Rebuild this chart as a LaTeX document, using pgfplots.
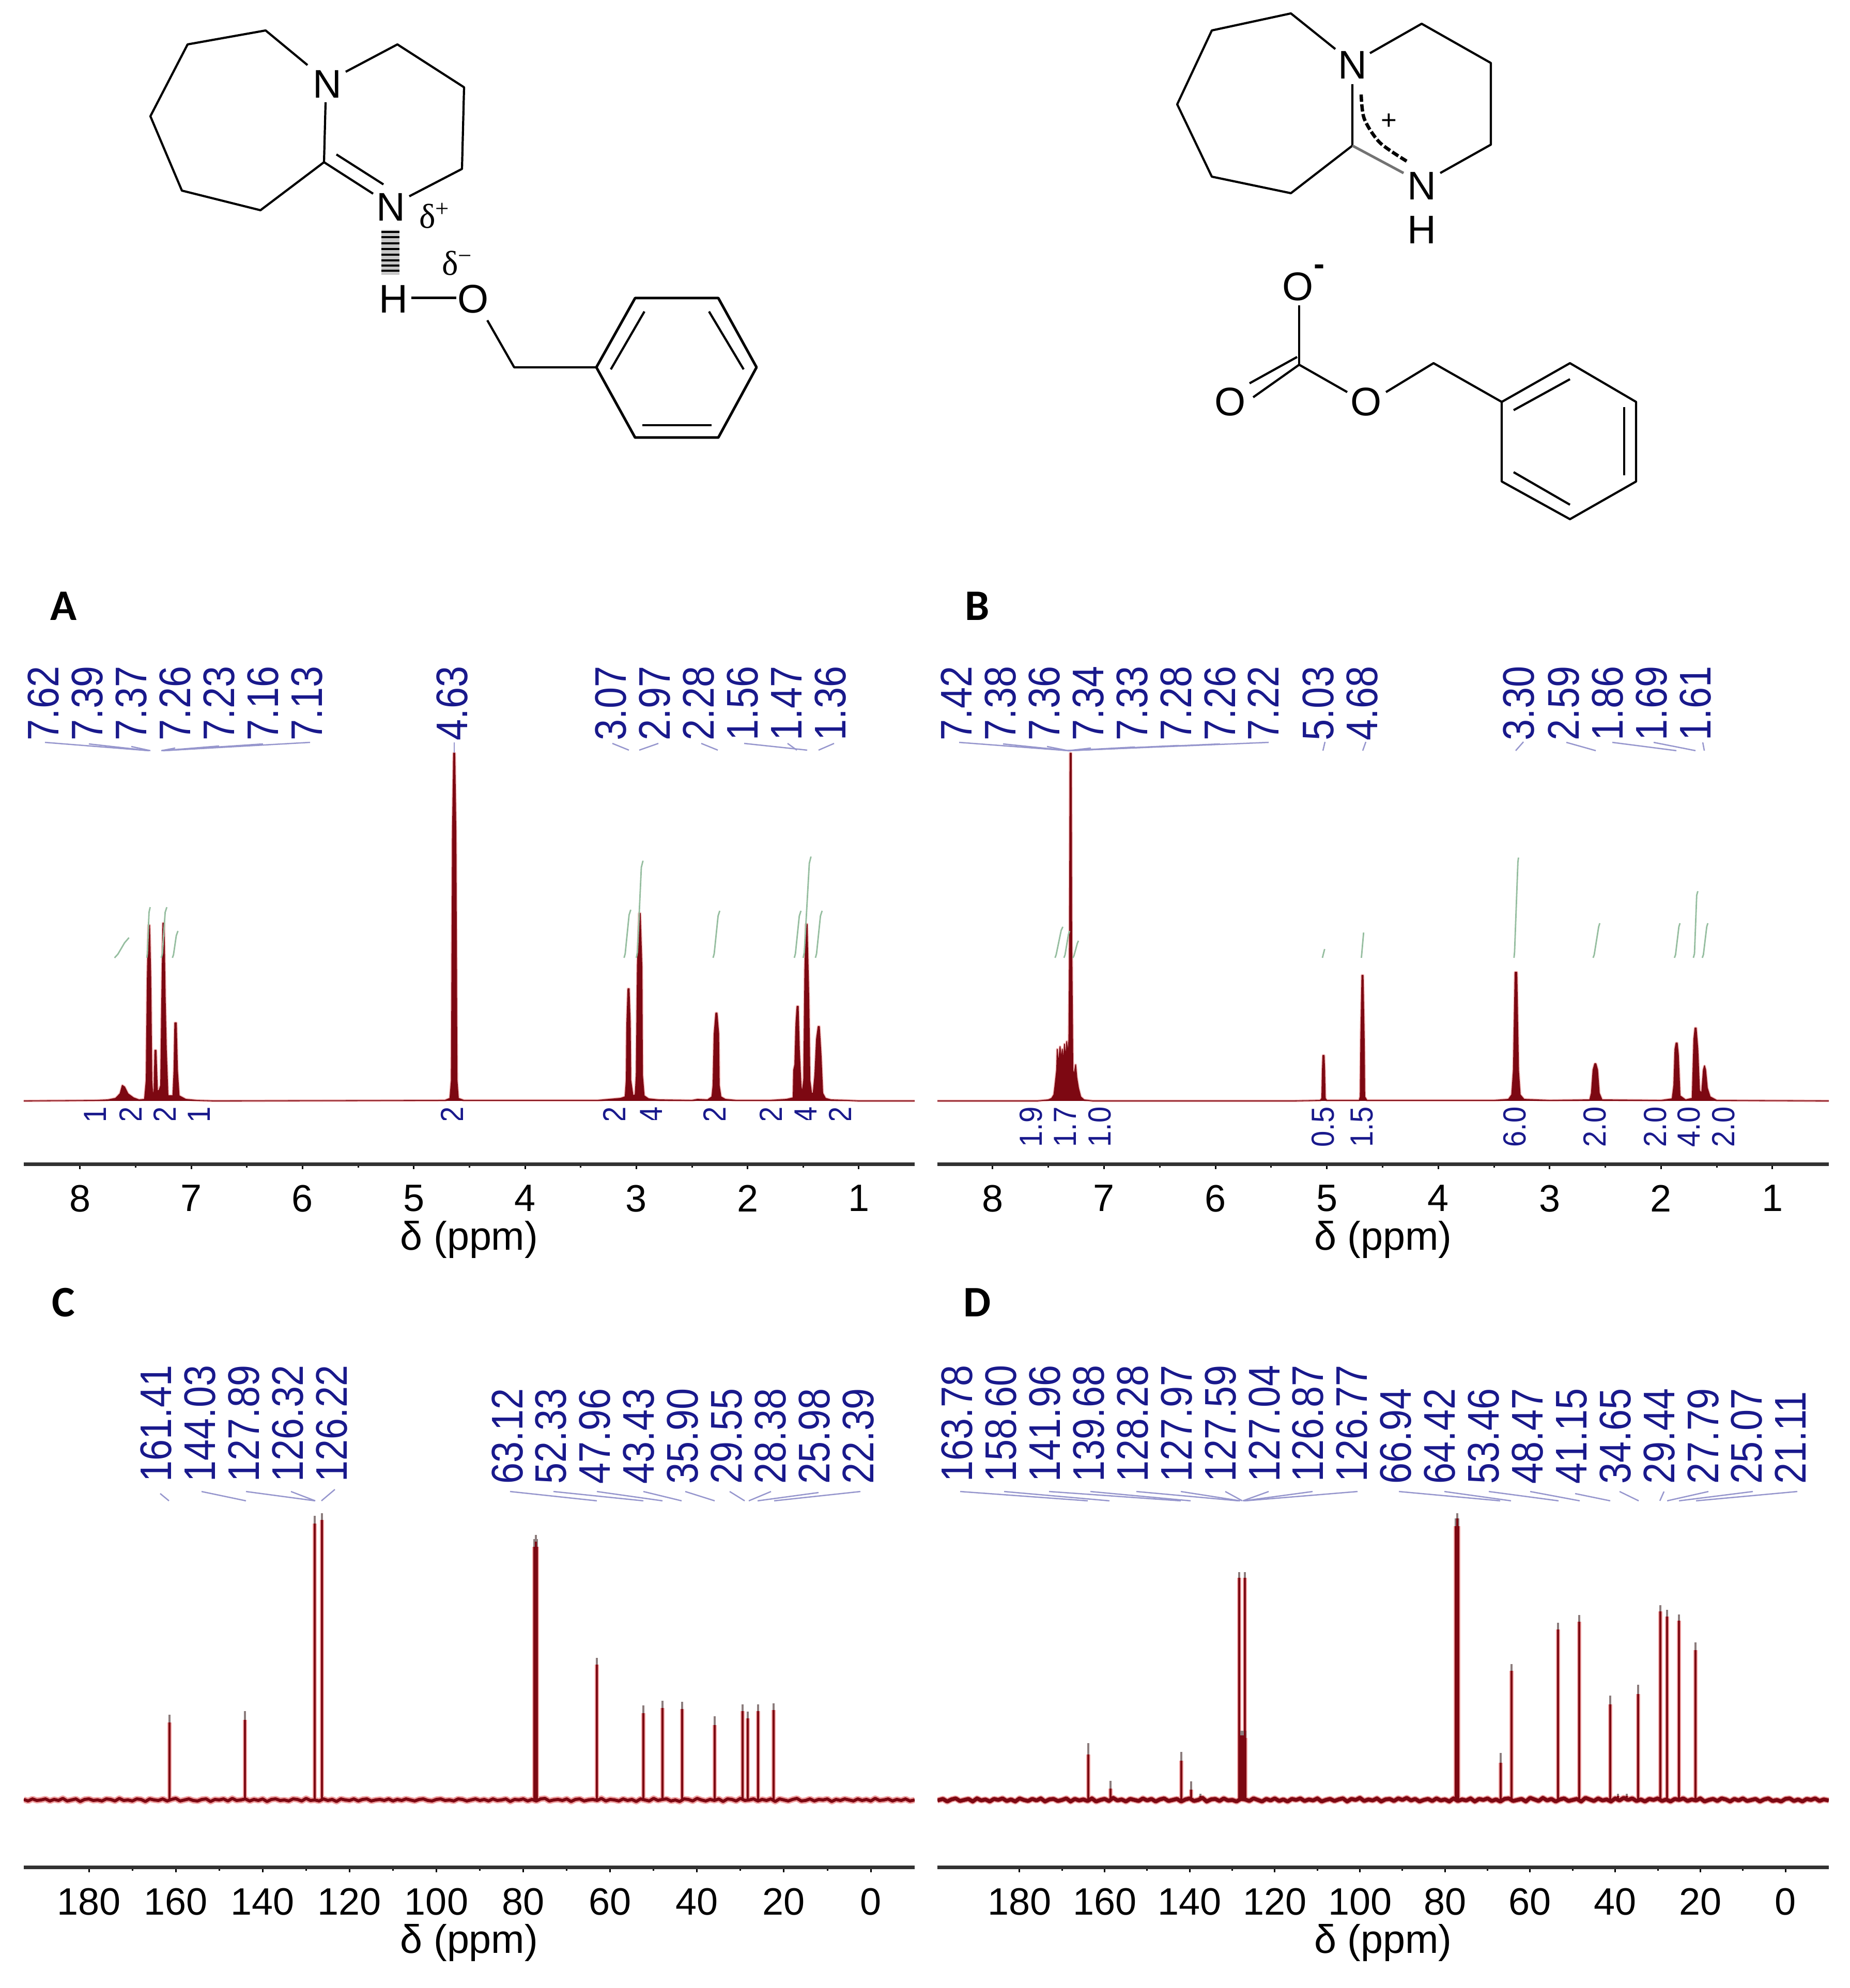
\documentclass[border=0pt]{standalone}
\usepackage{fontspec}
\usepackage{graphicx}
\usepackage{pgfplots}
\usepackage{pgfplotstable}
\pgfplotsset{compat=1.18}
\setmainfont{Liberation Sans}
\newfontfamily\serfont{Liberation Serif}
\newfontfamily\panelfont{Carlito}

\definecolor{spec}{RGB}{125,8,18}
\definecolor{halo}{RGB}{240,160,160}
\definecolor{tip}{RGB}{140,125,125}
\definecolor{integ}{RGB}{150,190,160}
\definecolor{peaklab}{RGB}{25,25,140}
\definecolor{leader}{RGB}{150,150,205}
\definecolor{axisgray}{RGB}{50,50,50}

% 1H spectra: ppm, height above baseline
\pgfplotstableread[row sep=\\]{
x y\\
8.51 0\\ 7.85 1\\ 7.75 2\\ 7.68 5\\ 7.64 14\\ 7.62 30\\ 7.60 27\\ 7.57 14\\ 7.52 6\\ 7.47 2\\ 7.42 3\\
7.405 40\\ 7.395 240\\ 7.385 340\\ 7.375 340\\ 7.365 240\\ 7.355 40\\ 7.345 8\\ 7.335 20\\ 7.327 98\\ 7.317 98\\ 7.305 20\\ 7.29 20\\
7.275 30\\ 7.265 200\\ 7.255 344\\ 7.245 344\\ 7.235 200\\ 7.225 100\\ 7.21 10\\ 7.165 10\\ 7.155 60\\ 7.148 151\\ 7.135 151\\ 7.125 60\\ 7.11 10\\ 7.05 3\\ 6.95 1\\ 6.8 0\\
4.72 1\\ 4.675 5\\ 4.662 40\\ 4.652 520\\ 4.642 673\\ 4.632 673\\ 4.622 520\\ 4.612 40\\ 4.60 5\\ 4.55 1\\
3.35 1\\ 3.14 5\\ 3.10 8\\ 3.09 40\\ 3.085 150\\ 3.075 217\\ 3.065 217\\ 3.055 150\\ 3.05 40\\ 3.03 10\\
3.01 12\\ 3.0 50\\ 2.99 260\\ 2.975 363\\ 2.965 363\\ 2.95 260\\ 2.945 50\\ 2.93 10\\ 2.89 4\\ 2.8 2\\ 2.5 1\\ 2.45 3\\ 2.36 2\\
2.32 8\\ 2.31 30\\ 2.30 130\\ 2.285 170\\ 2.275 170\\ 2.26 130\\ 2.255 30\\ 2.24 8\\ 2.2 3\\ 2.1 1\\ 1.8 1\\ 1.65 3\\
1.59 6\\ 1.585 60\\ 1.575 70\\ 1.565 150\\ 1.555 183\\ 1.545 183\\ 1.535 100\\ 1.52 30\\ 1.51 15\\ 1.495 40\\ 1.485 250\\ 1.475 342\\ 1.465 342\\ 1.45 200\\ 1.44 40\\ 1.425 15\\ 1.41 15\\ 1.395 50\\ 1.38 120\\ 1.365 144\\ 1.355 144\\ 1.34 90\\ 1.325 15\\ 1.30 5\\ 1.25 2\\ 1.1 1\\ 1.0 0\\ 0.49 0\\
}\specA
\pgfplotstableread[row sep=\\]{
x y\\
8.5 0\\ 7.6 0\\ 7.5 2\\ 7.47 5\\ 7.45 12\\ 7.44 30\\ 7.425 60\\ 7.42 100\\ 7.41 70\\ 7.395 105\\ 7.385 80\\ 7.375 100\\ 7.365 75\\ 7.355 110\\ 7.345 80\\ 7.335 115\\ 7.325 90\\ 7.315 120\\ 7.31 300\\ 7.305 673\\ 7.295 673\\ 7.29 300\\ 7.28 60\\ 7.27 50\\ 7.255 70\\ 7.245 45\\ 7.23 25\\ 7.21 8\\ 7.18 2\\ 7.1 0\\
5.3 0\\ 5.06 1\\ 5.045 5\\ 5.04 60\\ 5.035 88\\ 5.025 88\\ 5.02 60\\ 5.015 5\\ 5.0 1\\ 4.71 1\\ 4.7 8\\ 4.695 120\\ 4.685 243\\ 4.675 243\\ 4.665 120\\ 4.66 8\\ 4.64 1\\
3.5 1\\ 3.37 3\\ 3.34 12\\ 3.325 60\\ 3.31 249\\ 3.295 249\\ 3.28 60\\ 3.265 12\\ 3.23 3\\ 3.0 1\\ 2.64 2\\ 2.625 15\\ 2.61 60\\ 2.595 72\\ 2.585 72\\ 2.57 60\\ 2.555 15\\ 2.53 2\\ 2.0 1\\
1.90 4\\ 1.885 30\\ 1.875 100\\ 1.865 112\\ 1.855 112\\ 1.845 90\\ 1.83 10\\ 1.78 2\\ 1.72 5\\ 1.705 120\\ 1.695 141\\ 1.685 141\\ 1.67 100\\ 1.655 20\\ 1.635 15\\ 1.62 60\\ 1.61 68\\ 1.60 60\\ 1.585 25\\ 1.56 8\\ 1.50 1\\ 0.49 0\\
}\specB

% integral traces
\pgfplotstableread[row sep=\\]{
x y\\
7.69 277\\ 7.66 284\\ 7.60 306\\ 7.56 316\\ nan nan\\ 7.40 277\\ 7.395 285\\ 7.38 365\\ 7.37 375\\ nan nan\\ 7.27 277\\ 7.26 285\\ 7.235 365\\ 7.22 375\\ nan nan\\ 7.17 277\\ 7.16 283\\ 7.135 320\\ 7.12 329\\ nan nan\\
3.11 277\\ 3.10 285\\ 3.065 360\\ 3.05 370\\ nan nan\\ 3.00 277\\ 2.99 288\\ 2.955 452\\ 2.94 465\\ nan nan\\ 2.31 277\\ 2.30 285\\ 2.265 358\\ 2.25 368\\ nan nan\\ 1.58 277\\ 1.57 285\\ 1.535 358\\ 1.52 368\\ nan nan\\ 1.50 277\\ 1.49 288\\ 1.445 460\\ 1.43 473\\ nan nan\\ 1.39 277\\ 1.38 285\\ 1.345 358\\ 1.33 368\\
}\intA
\pgfplotstableread[row sep=\\]{
x y\\
7.44 277\\ 7.43 283\\ 7.385 330\\ 7.37 337\\ nan nan\\ 7.36 277\\ 7.35 283\\ 7.32 322\\ 7.31 329\\ nan nan\\ 7.28 277\\ 7.27 281\\ 7.24 305\\ 7.23 310\\ nan nan\\ 5.04 277\\ 5.02 294\\ nan nan\\ 4.69 277\\ 4.67 326\\ nan nan\\
3.32 277\\ 3.315 288\\ 3.285 462\\ 3.28 471\\ nan nan\\ 2.61 277\\ 2.60 283\\ 2.56 337\\ 2.55 344\\ nan nan\\ 1.88 277\\ 1.87 283\\ 1.84 337\\ 1.83 344\\ nan nan\\ 1.71 277\\ 1.70 285\\ 1.68 398\\ 1.67 406\\ nan nan\\ 1.63 277\\ 1.62 283\\ 1.59 337\\ 1.58 344\\
}\intB

% 13C baselines
\pgfplotstableread[row sep=\\]{
x y\\
195 1\\ 194 -2\\ 193 2\\ 192 -1\\ 191 0\\ 190 2\\ 189 -2\\ 188 1\\ 187 -1\\ 186 3\\ 185 -2\\ 184 0\\ 183 2\\ 182 -3\\ 181 1\\ 180 2\\ 179 -1\\ 178 0\\ 177 -2\\ 176 2\\ 175 1\\ 174 -2\\ 173 3\\ 172 -1\\ 171 0\\ 170 -2\\ 169 2\\ 168 1\\ 167 -3\\ 166 2\\ 165 0\\ 164 -1\\ 163 2\\ 162 -2\\ 161 1\\ 160 3\\ 159 -2\\ 158 0\\ 157 2\\ 156 -1\\ 155 -2\\ 154 1\\ 153 2\\ 152 -3\\ 151 1\\ 150 0\\ 149 2\\ 148 -2\\ 147 3\\ 146 -1\\ 145 0\\ 144 2\\ 143 -2\\ 142 1\\ 141 -1\\ 140 2\\ 139 -3\\ 138 1\\ 137 2\\ 136 -1\\ 135 0\\ 134 -2\\ 133 2\\ 132 1\\ 131 -2\\ 130 3\\ 129 -1\\ 128 0\\ 127 -2\\ 126 2\\ 125 -1\\ 124 1\\ 123 -3\\ 122 2\\ 121 0\\ 120 -1\\ 119 2\\ 118 -2\\ 117 1\\ 116 2\\ 115 -2\\ 114 0\\ 113 1\\ 112 -1\\ 111 2\\ 110 -2\\ 109 1\\ 108 -1\\ 107 2\\ 106 0\\ 105 -2\\ 104 1\\ 103 2\\ 102 -1\\ 101 -2\\ 100 1\\ 99 2\\ 98 -1\\ 97 0\\ 96 -2\\ 95 2\\ 94 1\\ 93 -2\\ 92 0\\ 91 2\\ 90 -1\\ 89 1\\ 88 -2\\ 87 2\\ 86 -1\\ 85 0\\ 84 2\\ 83 -3\\ 82 1\\ 81 0\\ 80 2\\ 79 -2\\ 78 1\\ 77 -2\\ 76 2\\ 75 3\\ 74 -2\\ 73 0\\ 72 1\\ 71 -1\\ 70 2\\ 69 -3\\ 68 1\\ 67 2\\ 66 -2\\ 65 0\\ 64 1\\ 63 -1\\ 62 3\\ 61 -2\\ 60 1\\ 59 0\\ 58 -2\\ 57 2\\ 56 -1\\ 55 1\\ 54 -3\\ 53 2\\ 52 0\\ 51 -2\\ 50 3\\ 49 -1\\ 48 1\\ 47 2\\ 46 -2\\ 45 0\\ 44 -3\\ 43 2\\ 42 1\\ 41 -2\\ 40 3\\ 39 0\\ 38 -2\\ 37 1\\ 36 -1\\ 35 2\\ 34 -3\\ 33 2\\ 32 1\\ 31 -2\\ 30 3\\ 29 -1\\ 28 0\\ 27 2\\ 26 -2\\ 25 1\\ 24 -1\\ 23 2\\ 22 -3\\ 21 2\\ 20 0\\ 19 -2\\ 18 1\\ 17 3\\ 16 -2\\ 15 -1\\ 14 2\\ 13 -2\\ 12 1\\ 11 0\\ 10 2\\ 9 -3\\ 8 1\\ 7 -1\\ 6 2\\ 5 0\\ 4 -2\\ 3 2\\ 2 -1\\ 1 1\\ 0 -2\\ -1 3\\ -2 -1\\ -3 0\\ -4 2\\ -5 -2\\ -6 1\\ -7 -1\\ -8 2\\ -9 -2\\ -10.1 0\\
}\baseC
\pgfplotstableread[row sep=\\]{
x y\\
199.3 -1\\ 198 2\\ 197 -3\\ 196 1\\ 195 3\\ 194 -2\\ 193 0\\ 192 2\\ 191 -3\\ 190 3\\ 189 -1\\ 188 1\\ 187 -3\\ 186 2\\ 185 0\\ 184 3\\ 183 -2\\ 182 1\\ 181 -3\\ 180 3\\ 179 0\\ 178 -2\\ 177 2\\ 176 -1\\ 175 3\\ 174 -3\\ 173 1\\ 172 2\\ 171 -2\\ 170 0\\ 169 3\\ 168 -3\\ 167 2\\ 166 -1\\ 165 1\\ 164 -2\\ 163 3\\ 162 -3\\ 161 0\\ 160 2\\ 159 -2\\ 158 4\\ 157 -1\\ 156 1\\ 155 -3\\ 154 2\\ 153 0\\ 152 -2\\ 151 3\\ 150 -1\\ 149 2\\ 148 -3\\ 147 1\\ 146 3\\ 145 -2\\ 144 0\\ 143 2\\ 142 -3\\ 141 1\\ 140 3\\ 139 -2\\ 138 0\\ 137 4\\ 136 -3\\ 135 1\\ 134 2\\ 133 -2\\ 132 3\\ 131 -1\\ 130 0\\ 129 -3\\ 128 2\\ 127 1\\ 126 -2\\ 125 3\\ 124 0\\ 123 -3\\ 122 2\\ 121 -1\\ 120 3\\ 119 -2\\ 118 1\\ 117 -3\\ 116 2\\ 115 0\\ 114 3\\ 113 -2\\ 112 1\\ 111 -1\\ 110 3\\ 109 -3\\ 108 0\\ 107 2\\ 106 -2\\ 105 1\\ 104 3\\ 103 -3\\ 102 2\\ 101 0\\ 100 4\\ 99 -2\\ 98 1\\ 97 -1\\ 96 3\\ 95 -3\\ 94 1\\ 93 2\\ 92 -2\\ 91 3\\ 90 0\\ 89 4\\ 88 -1\\ 87 2\\ 86 -3\\ 85 0\\ 84 2\\ 83 -2\\ 82 3\\ 81 -1\\ 80 1\\ 79 -3\\ 78 3\\ 77 -2\\ 76 1\\ 75 -1\\ 74 3\\ 73 -3\\ 72 2\\ 71 0\\ 70 3\\ 69 -2\\ 68 1\\ 67 -3\\ 66 2\\ 65 3\\ 64 -2\\ 63 0\\ 62 2\\ 61 -3\\ 60 4\\ 59 1\\ 58 -2\\ 57 4\\ 56 -1\\ 55 2\\ 54 -3\\ 53 1\\ 52 3\\ 51 -2\\ 50 0\\ 49 2\\ 48 -3\\ 47 4\\ 46 1\\ 45 -2\\ 44 3\\ 43 -1\\ 42 1\\ 41 -3\\ 40 3\\ 39 -1\\ 38 4\\ 37 0\\ 36 3\\ 35 -2\\ 34 1\\ 33 -3\\ 32 2\\ 31 0\\ 30 3\\ 29 -2\\ 28 1\\ 27 -3\\ 26 2\\ 25 0\\ 24 3\\ 23 -2\\ 22 1\\ 21 -1\\ 20 3\\ 19 -3\\ 18 0\\ 17 2\\ 16 -2\\ 15 3\\ 14 1\\ 13 -3\\ 12 2\\ 11 -1\\ 10 3\\ 9 -2\\ 8 0\\ 7 2\\ 6 -3\\ 5 1\\ 4 3\\ 3 -2\\ 2 0\\ 1 -3\\ 0 2\\ -1 3\\ -2 -2\\ -3 1\\ -4 -3\\ -5 2\\ -6 0\\ -7 3\\ -8 -2\\ -9 1\\ -10.2 -1\\
}\baseD

% 13C peaks: ppm, top of the grey tip, top of the red stem
\pgfplotstableread[row sep=\\]{
x top red\\
161.41 165 150\\ 144.03 172 155\\ 128.0 550 535\\ 126.3 555 542\\ 77.5 505 490\\ 77.16 513 500\\ 76.84 505 490\\ 63.12 275 262\\ 52.33 183 168\\ 47.96 192 178\\ 43.43 190 176\\ 35.90 162 145\\ 29.55 185 172\\ 28.38 171 158\\ 25.98 185 172\\ 22.39 187 174\\
}\peaksC
\pgfplotstableread[row sep=\\]{
x top red\\
163.78 110 88\\ 158.60 37 22\\ 141.96 93 76\\ 139.68 36 20\\ 137.5 12 8\\ 128.4 441 430\\ 128.2 134 120\\ 128.0 134 125\\ 127.6 134 125\\ 127.3 134 125\\ 127.05 441 430\\ 126.9 134 120\\ 77.5 545 530\\ 77.16 555 545\\ 76.84 545 530\\ 66.94 91 72\\ 64.42 263 250\\ 53.46 343 330\\ 48.47 358 345\\ 41.15 202 185\\ 39.3 12 8\\ 37.3 12 8\\ 34.65 223 205\\ 29.44 377 365\\ 27.79 368 355\\ 25.07 359 347\\ 21.11 305 290\\
}\peaksD

\pgfplotsset{
  nmr/.style={
    scale only axis, x dir=reverse,
    axis x line*=bottom, axis y line=none,
    x axis line style={line width=0.07cm, color=axisgray},
    tick align=outside,
    major tick length=0.09cm, minor tick length=0.06cm,
    xtick style={line width=0.03cm, color=black},
    minor tick style={line width=0.03cm, color=black},
    /pgf/number format/assume math mode=true,
    xticklabel style={font=\fontsize{21}{24}\selectfont, inner sep=0pt, yshift=-0.3cm},
    xlabel={δ (ppm)},
    xlabel style={font=\fontsize{22}{26}\selectfont, inner sep=0pt, yshift=-0.17cm},
  },
  specline/.style={color=spec, fill=spec, line width=0.018cm, line join=round},
  specbase/.style={color=spec, line width=0.06cm, line join=round},
  halobase/.style={color=halo, line width=0.115cm, line join=round},
  halo1h/.style={color=halo, fill=halo, line width=0.05cm, opacity=0.7, line join=round},
  intline/.style={color=integ, line width=0.028cm, unbounded coords=jump, line join=round},
}

\newcommand\peaklabfont{\fontsize{21}{24}\selectfont}
\newcommand\smalllabfont{\fontsize{16}{19}\selectfont}
% top and bottom rotated labels, in picture pixels
\newcommand\tl[3]{\node[anchor=south, inner sep=0pt, color=peaklab, font=\peaklabfont] at (axis cs:#1,#2) {\rotatebox{90}{\scalebox{1}[1.16]{#3}}};}
\newcommand\bl[3]{\node[anchor=north, inner sep=0pt, color=peaklab, font=\smalllabfont] at (axis cs:#1,#2) {\rotatebox{90}{\scalebox{1}[1.1]{#3}}};}
\newcommand\ld[4]{\addplot[color=leader, line width=0.025cm] coordinates {(#1,#2)(#3,#4)};}
\newcommand\atom[3]{\node[inner sep=0pt, font=\fontsize{22}{26}\selectfont] at (axis cs:#1,#2) {#3};}
\newcommand\bondline[1]{\addplot[black, line width=0.042cm, line join=round] coordinates {#1};}
\newcommand\panel[3]{\node[inner sep=0pt, font=\panelfont\bfseries\fontsize{24}{28}\selectfont] at (axis cs:#1,#2) {#3};}

\begin{document}
\begin{tikzpicture}
\path[use as bounding box] (0,0) rectangle (35.79cm,38.48cm);

% A
\begin{axis}[nmr, at={(0.46cm,15.94cm)}, width=17.24cm, height=10.54cm,
  xmin=0.498, xmax=8.506, ymin=-123, ymax=931,
  xtick={1,2,3,4,5,6,7,8}, minor x tick num=1]
  \addplot[halo1h] table[x=x,y=y] {\specA};
  \addplot[specline] table[x=x,y=y] {\specA};
  \addplot[intline] table[x=x,y=y] {\intA};
\end{axis}

% B
\begin{axis}[nmr, at={(18.14cm,15.94cm)}, width=17.25cm, height=10.54cm,
  xmin=0.494, xmax=8.496, ymin=-123, ymax=931,
  xtick={1,2,3,4,5,6,7,8}, minor x tick num=1]
  \addplot[halo1h] table[x=x,y=y] {\specB};
  \addplot[specline] table[x=x,y=y] {\specB};
  \addplot[intline] table[x=x,y=y] {\intB};
\end{axis}

% C
\begin{axis}[nmr, at={(0.46cm,2.33cm)}, width=17.24cm, height=8.65cm,
  xmin=-10.1, xmax=195, ymin=-131, ymax=734,
  xtick={0,20,...,180}, minor x tick num=1]
  \addplot[halobase] table[x=x,y=y] {\baseC};
  \addplot[ycomb, color=halo, line width=0.08cm] table[x=x,y=red] {\peaksC};
  \addplot[ycomb, color=tip, line width=0.04cm] table[x=x,y=top] {\peaksC};
  \addplot[ycomb, color=spec, line width=0.04cm] table[x=x,y=red] {\peaksC};
  \addplot[specbase] table[x=x,y=y] {\baseC};
\end{axis}

% D
\begin{axis}[nmr, at={(18.14cm,2.33cm)}, width=17.25cm, height=8.65cm,
  xmin=-10.2, xmax=199.3, ymin=-131, ymax=734,
  xtick={0,20,...,180}, minor x tick num=1]
  \addplot[halobase] table[x=x,y=y] {\baseD};
  \addplot[ycomb, color=halo, line width=0.08cm] table[x=x,y=red] {\peaksD};
  \addplot[ycomb, color=tip, line width=0.04cm] table[x=x,y=top] {\peaksD};
  \addplot[ycomb, color=spec, line width=0.04cm] table[x=x,y=red] {\peaksD};
  \addplot[specbase, line width=0.075cm] table[x=x,y=y] {\baseD};
\end{axis}

% everything else, in picture pixels
\begin{axis}[at={(0cm,0cm)}, scale only axis, width=35.79cm, height=38.48cm,
  xmin=0, xmax=3579, ymin=0, ymax=3848, y dir=reverse, hide axis, clip=false]

  \panel{123}{1173}{A}
  \panel{1891}{1173}{B}
  \panel{123}{2521}{C}
  \panel{1891}{2521}{D}

  % A labels
  \tl{84}{1434}{7.62}\tl{169}{1434}{7.39}\tl{254}{1434}{7.37}\tl{339}{1434}{7.26}\tl{424}{1434}{7.23}\tl{509}{1434}{7.16}\tl{594}{1434}{7.13}
  \tl{875}{1434}{4.63}
  \tl{1182}{1434}{3.07}\tl{1267}{1434}{2.97}\tl{1352}{1434}{2.28}\tl{1437}{1434}{1.56}\tl{1522}{1434}{1.47}\tl{1607}{1434}{1.36}
  \ld{87}{1437}{288}{1453}\ld{172}{1440}{288}{1453}\ld{254}{1445}{291}{1453}
  \ld{339}{1448}{312}{1453}\ld{424}{1444}{314}{1453}\ld{509}{1440}{316}{1453}\ld{600}{1437}{316}{1453}
  \ld{879}{1437}{879}{1457}
  \ld{1185}{1439}{1217}{1452}\ld{1274}{1439}{1237}{1452}\ld{1357}{1439}{1389}{1452}
  \ld{1440}{1439}{1562}{1452}\ld{1524}{1439}{1542}{1452}\ld{1614}{1439}{1584}{1452}
  \bl{184}{2142}{1}\bl{253}{2142}{2}\bl{319}{2142}{2}\bl{385}{2142}{1}\bl{875}{2142}{2}
  \bl{1189}{2142}{2}\bl{1260}{2142}{4}\bl{1383}{2142}{2}\bl{1492}{2142}{2}\bl{1559}{2142}{4}\bl{1626}{2142}{2}
  % the integral digits are cut off in A
  \addplot[white, line width=0.4cm] coordinates {(150,2188)(1680,2188)};

  % B labels
  \tl{1851}{1434}{7.42}\tl{1936}{1434}{7.38}\tl{2021}{1434}{7.36}\tl{2106}{1434}{7.34}\tl{2191}{1434}{7.33}\tl{2276}{1434}{7.28}\tl{2361}{1434}{7.26}\tl{2445}{1434}{7.22}
  \tl{2551}{1434}{5.03}\tl{2636}{1434}{4.68}\tl{2939}{1434}{3.30}\tl{3026}{1434}{2.59}\tl{3111}{1434}{1.86}\tl{3196}{1434}{1.69}\tl{3281}{1434}{1.61}
  \ld{1856}{1437}{2067}{1453}\ld{1941}{1440}{2067}{1453}\ld{2026}{1445}{2067}{1453}\ld{2111}{1448}{2067}{1453}
  \ld{2196}{1446}{2067}{1453}\ld{2281}{1443}{2067}{1453}\ld{2361}{1440}{2067}{1453}\ld{2455}{1437}{2067}{1453}
  \ld{2564}{1436}{2560}{1453}\ld{2643}{1436}{2637}{1453}\ld{2948}{1436}{2933}{1453}\ld{3031}{1437}{3088}{1453}
  \ld{3120}{1437}{3244}{1453}\ld{3200}{1437}{3281}{1453}\ld{3295}{1437}{3298}{1453}
  \bl{1995}{2142}{1.9}\bl{2061}{2142}{1.7}\bl{2128}{2142}{1.0}\bl{2560}{2142}{0.5}\bl{2635}{2142}{1.5}
  \bl{2931}{2142}{6.0}\bl{3086}{2142}{2.0}\bl{3203}{2142}{2.0}\bl{3268}{2142}{4.0}\bl{3335}{2142}{2.0}

  % C labels
  \tl{302}{2869}{161.41}\tl{387}{2869}{144.03}\tl{472}{2869}{127.89}\tl{557}{2869}{126.32}\tl{642}{2869}{126.22}
  \tl{982}{2873}{63.12}\tl{1066}{2873}{52.33}\tl{1151}{2873}{47.96}\tl{1236}{2873}{43.43}\tl{1321}{2873}{35.90}\tl{1406}{2873}{29.55}\tl{1491}{2873}{28.38}\tl{1576}{2873}{25.98}\tl{1661}{2873}{22.39}
  \ld{310}{2891}{327}{2905}\ld{390}{2887}{476}{2905}\ld{476}{2887}{610}{2905}\ld{563}{2887}{610}{2905}\ld{648}{2883}{622}{2905}
  \ld{987}{2887}{1155}{2905}\ld{1071}{2887}{1245}{2905}\ld{1155}{2887}{1282}{2905}\ld{1245}{2887}{1319}{2905}
  \ld{1326}{2887}{1383}{2905}\ld{1412}{2887}{1441}{2905}\ld{1492}{2887}{1449}{2905}\ld{1584}{2889}{1466}{2905}\ld{1665}{2887}{1498}{2905}

  % D labels
  \tl{1852}{2869}{163.78}\tl{1937}{2869}{158.60}\tl{2022}{2869}{141.96}\tl{2107}{2869}{139.68}\tl{2192}{2869}{128.28}\tl{2277}{2869}{127.97}\tl{2362}{2869}{127.59}\tl{2447}{2869}{127.04}\tl{2531}{2869}{126.87}\tl{2616}{2869}{126.77}
  \tl{2701}{2873}{66.94}\tl{2786}{2873}{64.42}\tl{2871}{2873}{53.46}\tl{2956}{2873}{48.47}\tl{3041}{2873}{41.15}\tl{3126}{2873}{34.65}\tl{3211}{2873}{29.44}\tl{3296}{2873}{27.79}\tl{3380}{2873}{25.07}\tl{3465}{2873}{21.11}
  \ld{1858}{2887}{2105}{2905}\ld{1943}{2887}{2147}{2905}\ld{2030}{2887}{2285}{2905}\ld{2110}{2887}{2304}{2905}\ld{2199}{2887}{2397}{2905}
  \ld{2285}{2887}{2400}{2905}\ld{2371}{2887}{2404}{2905}\ld{2455}{2887}{2405}{2905}\ld{2540}{2887}{2407}{2905}\ld{2627}{2887}{2409}{2905}
  \ld{2707}{2887}{2903}{2905}\ld{2795}{2887}{2924}{2905}\ld{2881}{2887}{3016}{2905}\ld{2961}{2887}{3057}{2905}
  \ld{3048}{2891}{3116}{2905}\ld{3134}{2887}{3171}{2905}\ld{3220}{2887}{3212}{2905}\ld{3306}{2887}{3226}{2905}\ld{3392}{2887}{3249}{2905}\ld{3478}{2887}{3282}{2905}

  % left structure
  \bondline{(595,126)(514,59)(363,86)(291,225)(352,369)(504,407)(627,314)(630,198)}
  \bondline{(669,139)(769,86)(898,169)(894,327)(792,380)}
  \bondline{(627,314)(722,375)}
  \bondline{(651,299)(742,357)}
  \addplot[black, line width=0.05cm] coordinates {(796,577)(883,577)};
  \bondline{(943,620)(995,711)(1154,711)}
  \addplot[black, line width=0.05cm, line join=round] coordinates {(1154,711)(1229,577)(1390,577)(1464,711)(1390,847)(1229,847)(1154,711)};
  \bondline{(1182,715)(1247,603)}
  \bondline{(1372,603)(1439,715)}
  \bondline{(1243,823)(1377,823)}
  \addplot[black!22, line width=0.35cm] coordinates {(755,445)(755,532)};
  \addplot[black, line width=0.035cm] coordinates {(738,449)(773,449)};
  \addplot[black, line width=0.035cm] coordinates {(738,459)(773,459)};
  \addplot[black, line width=0.035cm] coordinates {(738,471)(773,471)};
  \addplot[black, line width=0.035cm] coordinates {(738,482)(773,482)};
  \addplot[black, line width=0.035cm] coordinates {(738,493)(773,493)};
  \addplot[black, line width=0.035cm] coordinates {(738,504)(773,504)};
  \addplot[black, line width=0.035cm] coordinates {(738,514)(773,514)};
  \addplot[black, line width=0.035cm] coordinates {(738,524)(773,524)};
  \atom{633}{163}{N}
  \atom{756}{401}{N}
  \atom{761}{579}{H}
  \atom{916}{579}{O}
  \node[inner sep=0pt, font=\serfont\fontsize{19}{22}\selectfont] at (axis cs:841,418) {δ\textsuperscript{+}};
  \node[inner sep=0pt, font=\serfont\fontsize{19}{22}\selectfont] at (axis cs:885,510) {δ\textsuperscript{−}};

  % right structure
  \bondline{(2584,95)(2498,26)(2345,59)(2278,202)(2345,342)(2498,374)(2617,282)(2617,163)}
  \bondline{(2651,103)(2751,46)(2885,122)(2885,280)(2787,335)}
  \addplot[black!55, line width=0.05cm] coordinates {(2617,282)(2716,335)};
  \addplot[black, line width=0.065cm, smooth, dash pattern=on 0.14cm off 0.05cm] coordinates {(2634,183)(2640,230)(2670,276)(2722,312)};
  \bondline{(2514,591)(2514,706)}
  \bondline{(2514,706)(2425,769)}
  \bondline{(2510,691)(2418,742)}
  \bondline{(2514,706)(2607,759)}
  \bondline{(2682,759)(2774,703)(2906,778)}
  \bondline{(2906,778)(3038,703)(3166,778)(3166,932)(3038,1005)(2906,932)(2906,778)}
  \bondline{(2929,794)(3038,734)}
  \bondline{(3143,788)(3143,920)}
  \bondline{(2929,914)(3038,977)}
  \atom{2617}{126}{N}
  \atom{2751}{360}{N}
  \atom{2751}{445}{H}
  \atom{2512}{555}{O}
  \atom{2381}{778}{O}
  \atom{2644}{778}{O}
  \node[inner sep=0pt, font=\fontsize{15}{18}\selectfont] at (axis cs:2688,235) {+};
  \node[inner sep=0pt, font=\bfseries\fontsize{18}{20}\selectfont] at (axis cs:2553,522) {-};
\end{axis}
\end{tikzpicture}
\end{document}
